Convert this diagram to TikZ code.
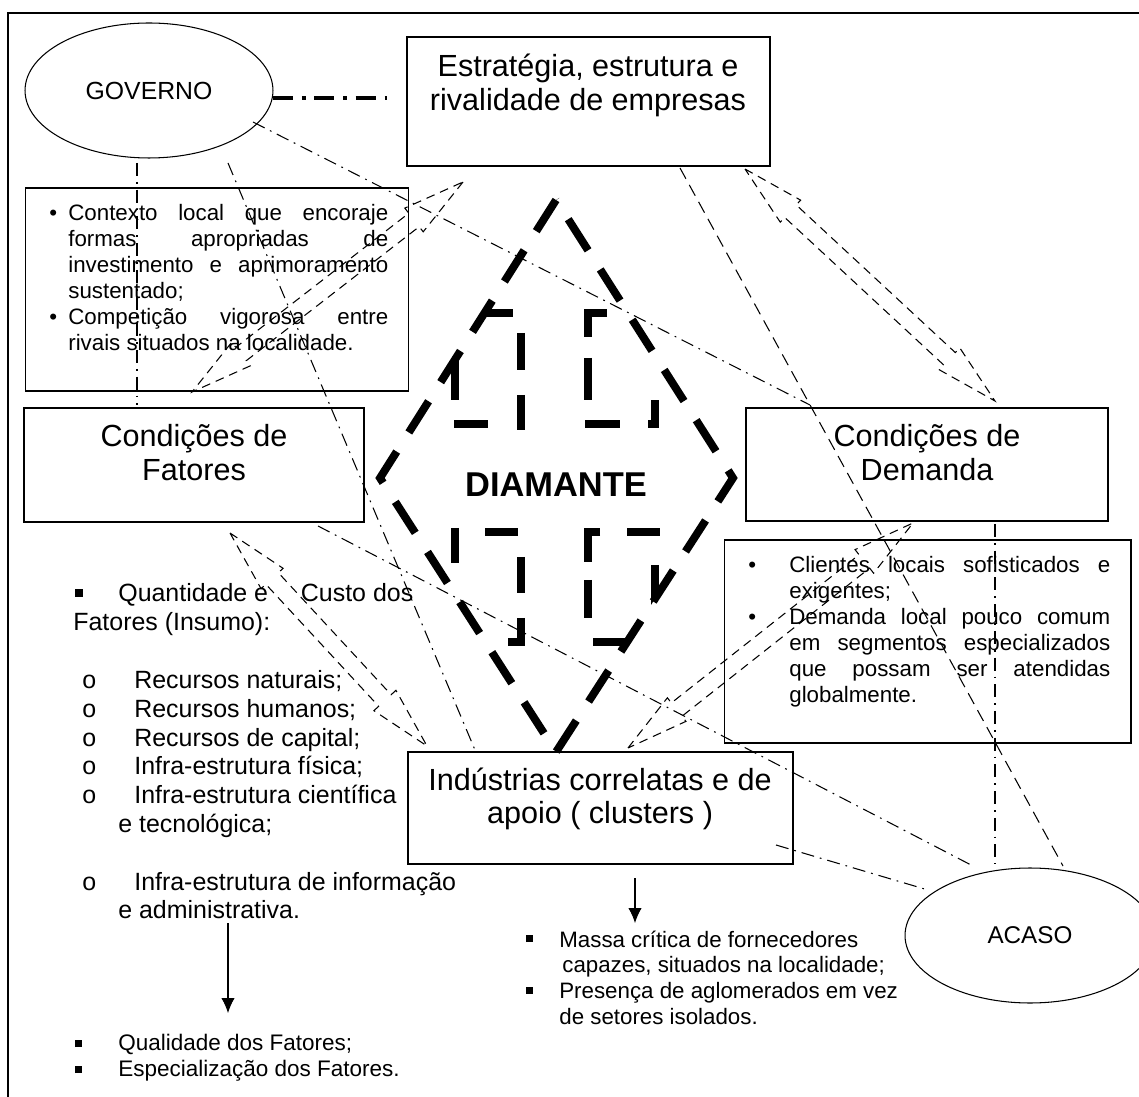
\documentclass[tikz,border=0pt]{standalone}
\usepackage{fontspec}
\setmainfont{Liberation Sans}
\usetikzlibrary{shapes.geometric,calc,arrows.meta}

\newcommand{\duaslinhas}[2]{\begin{tabular}[t]{@{}c@{}}#1\\#2\end{tabular}}
\newcommand{\justa}[2]{\makebox[#1][s]{#2}}
\newcommand{\quadrado}[2]{\raisebox{#2}{\rule{#1}{#1}}}
\newcommand{\itemo}{\hspace*{0.18cm}\makebox[1.04cm][l]{o}}
\newcommand{\setadupla}[2]{%
  \draw[contorno] (#1)
    -- ($(#1)!\CabecaSeta!(#2)!\AbaSeta!90:(#2)$)
    -- ($(#1)!\CabecaSeta!(#2)!\HasteSeta!90:(#2)$)
    -- ($(#2)!\CabecaSeta!(#1)!\HasteSeta!-90:(#1)$)
    -- ($(#2)!\CabecaSeta!(#1)!\AbaSeta!-90:(#1)$)
    -- (#2)
    -- ($(#2)!\CabecaSeta!(#1)!\AbaSeta!90:(#1)$)
    -- ($(#2)!\CabecaSeta!(#1)!\HasteSeta!90:(#1)$)
    -- ($(#1)!\CabecaSeta!(#2)!\HasteSeta!-90:(#2)$)
    -- ($(#1)!\CabecaSeta!(#2)!\AbaSeta!-90:(#2)$)
    -- cycle;}

\begin{document}
\begin{tikzpicture}[x=0.02cm,y=-0.02cm]
	\tikzstyle{caixa}=[draw,line width=1.4pt,inner sep=0pt]
	\tikzstyle{quadro}=[draw,line width=0.6pt,inner sep=0pt]
	\tikzstyle{elipse}=[draw,ellipse,line width=0.6pt,minimum width=4.96cm,minimum height=2.7cm]
	\tikzstyle{titulo}=[inner sep=0pt,anchor=base,font=\fontsize{17.4}{18.8}\selectfont]
	\tikzstyle{corpo}=[inner sep=0pt,anchor=base west,font=\fontsize{12.7}{14.7}\selectfont]
	\tikzstyle{lista}=[inner sep=0pt,anchor=base west,font=\fontsize{14.2}{16.4}\selectfont]
	\tikzstyle{tracoponto}=[line width=0.6pt,dash pattern=on 7.4pt off 3.4pt on 1pt off 3.4pt]
	\tikzstyle{tracogrosso}=[line width=2.2pt,dash pattern=on 11.5pt off 5pt on 2pt off 5pt]
	\tikzstyle{tracejado}=[line width=0.6pt,dash pattern=on 7pt off 4pt]
	\tikzstyle{contorno}=[line width=0.6pt,dash pattern=on 5pt off 3.4pt]
	\tikzstyle{diamante}=[line width=4.5pt,dash pattern=on 21pt off 12.9pt]
	\tikzstyle{faceta}=[line width=4.5pt]
	\tikzstyle{seta}=[line width=0.6pt,-{Latex[length=8.5pt,width=7.6pt]}]
	
	\def\CabecaSeta{1.24cm}
	\def\AbaSeta{0.3cm}
	\def\HasteSeta{0.17cm}
	
	\useasboundingbox (0,0) rectangle (1139,1097);
	\draw[line width=1.1pt] (8,13) rectangle (1250,1200);
	
	\coordinate (dT) at (556,200);
	\coordinate (dR) at (733,478);
	\coordinate (dB) at (556,752);
	\coordinate (dL) at (380,478);
	
	\begin{scope}
		\clip (dT) -- (dR) -- (dB) -- (dL) -- cycle;
		\draw[faceta] (470,313) -- (513,313);
		\draw[faceta] (607,313) -- (588,313) -- (588,337);
		\draw[faceta] (521,333) -- (521,370);
		\draw[faceta] (521,395) -- (521,430);
		\draw[faceta] (588,358) -- (588,400);
		\draw[faceta] (455,340) -- (455,400);
		\draw[faceta] (454,424) -- (488,424);
		\draw[faceta] (585,424) -- (620,424);
		\draw[faceta] (648,424) -- (655,424) -- (655,400);
		\draw[faceta] (485,532) -- (518,532);
		\draw[faceta] (600,532) -- (588,532) -- (588,562);
		\draw[faceta] (627,532) -- (660,532);
		\draw[faceta] (455,528) -- (455,563);
		\draw[faceta] (521,557) -- (521,593);
		\draw[faceta] (521,618) -- (521,642) -- (508,642);
		\draw[faceta] (588,580) -- (588,618);
		\draw[faceta] (655,565) -- (655,620);
		\draw[faceta] (593,642) -- (640,642);
	\end{scope}
	\node[font=\fontsize{19.6}{22}\selectfont\bfseries] (diam) at (556,484.5) {DIAMANTE};
	\draw[diamante] (dT) -- (dL) -- (dB) -- (dR) -- cycle;
	
	\node[elipse,font=\fontsize{14.1}{16}\selectfont] (gov) at (149,90.5) {GOVERNO};
	\node[elipse,minimum width=5cm,font=\fontsize{13.8}{16}\selectfont] (aca) at (1030,935.5) {ACASO};
	
	\node[caixa,minimum width=7.26cm,minimum height=2.58cm] (estr) at (588.5,101.5) {};
	\node[caixa,minimum width=6.8cm,minimum height=2.28cm] (fat) at (194,465) {};
	\node[caixa,minimum width=7.24cm,minimum height=2.26cm] (dem) at (927,464.5) {};
	\node[caixa,minimum width=7.7cm,minimum height=2.24cm] (ind) at (600.5,808) {};
	\node[quadro,minimum width=7.68cm,minimum height=4.06cm] (ctx) at (217,289.5) {};
	\node[quadro,minimum width=8.14cm,minimum height=4.06cm] (cli) at (927.5,641.5) {};
	
	\node[titulo] (estrT) at (588,77) {\duaslinhas{Estratégia, estrutura e}{rivalidade de empresas}};
	\node[titulo] (fatT) at (194,447) {\duaslinhas{Condições de}{Fatores}};
	\node[titulo] (demT) at (927,447) {\duaslinhas{Condições de}{Demanda}};
	\node[titulo] (indT) at (600,790) {\duaslinhas{Indústrias correlatas e de}{apoio ( clusters )}};
	
	\node[corpo] (ctxT) at (49,221) {\parbox[t]{6.78cm}{%
		\makebox[0.38cm][l]{•}\justa{6.4cm}{Contexto local que encoraje}\\
		\hspace*{0.38cm}\justa{6.4cm}{formas apropriadas de}\\
		\hspace*{0.38cm}\justa{6.4cm}{investimento e aprimoramento}\\
		\hspace*{0.38cm}sustentado;\\
		\makebox[0.38cm][l]{•}\justa{6.4cm}{Competição vigorosa entre}\\
		\hspace*{0.38cm}rivais situados na localidade.}};
	
	\node[corpo] (cliT) at (748,573) {\parbox[t]{7.24cm}{%
		\makebox[0.82cm][l]{•}\justa{6.42cm}{Clientes locais sofisticados e}\\
		\hspace*{0.82cm}exigentes;\\
		\makebox[0.82cm][l]{•}\justa{6.42cm}{Demanda local pouco comum}\\
		\hspace*{0.82cm}\justa{6.42cm}{em segmentos especializados}\\
		\hspace*{0.82cm}\justa{6.42cm}{que possam ser atendidas}\\
		\hspace*{0.82cm}globalmente.}};
	
	\node[lista] (fatL) at (73,602) {\parbox[t]{7.9cm}{%
		\makebox[6.8cm][l]{\hspace*{0.04cm}\quadrado{0.16cm}{0.1cm}\hspace{0.7cm}Quantidade e\hfill Custo dos}\\
		Fatores (Insumo):\\
		\mbox{}\\
		\itemo Recursos naturais;\\
		\itemo Recursos humanos;\\
		\itemo Recursos de capital;\\
		\itemo Infra-estrutura física;\\
		\itemo Infra-estrutura científica\\
		\hspace*{0.9cm}e tecnológica;\\
		\mbox{}\\
		\itemo Infra-estrutura de informação\\
		\hspace*{0.9cm}e administrativa.}};
	
	\node[corpo,font=\fontsize{12.8}{14.8}\selectfont] (fatQ) at (75,1050) {\parbox[t]{8.5cm}{%
		\makebox[0.86cm][l]{\quadrado{0.14cm}{0.06cm}}Qualidade dos Fatores;\\
		\makebox[0.86cm][l]{\quadrado{0.14cm}{0.06cm}}Especialização dos Fatores.}};
	
	\node[corpo] (indL) at (526,947) {\parbox[t]{7.5cm}{%
		\makebox[0.66cm][l]{\quadrado{0.14cm}{0.1cm}}Massa crítica de fornecedores\\
		\hspace*{0.72cm}capazes, situados na localidade;\\
		\makebox[0.66cm][l]{\quadrado{0.14cm}{0.1cm}}Presença de aglomerados em vez\\
		\hspace*{0.66cm}de setores isolados.}};
	
	\coordinate (govE) at (273,98);
	\coordinate (estG) at (387,98);
	\coordinate (govF) at (137,163);
	\coordinate (fatG) at (137,405);
	\coordinate (govI) at (228,163);
	\coordinate (indG) at (475,750);
	\coordinate (govD) at (253,122);
	\coordinate (demG) at (810,405);
	\coordinate (estA) at (680,168);
	\coordinate (acaE) at (1063,866);
	\coordinate (demA) at (995,524);
	\coordinate (acaD) at (995,864);
	\coordinate (fatA) at (318,526);
	\coordinate (acaF) at (973,866);
	\coordinate (indA) at (776,845);
	\coordinate (acaI) at (928,890);
	
	\draw[tracogrosso] (govE) -- (estG);
	\draw[tracoponto] (govF) -- (fatG);
	\draw[tracoponto] (govI) -- (indG);
	\draw[tracoponto] (govD) -- (demG);
	\draw[tracejado] (estA) -- (acaE);
	\draw[tracoponto] (demA) -- (acaD);
	\draw[tracoponto] (fatA) -- (acaF);
	\draw[tracoponto] (indA) -- (acaI);
	
	\coordinate (estSD) at (745,169);
	\coordinate (demN) at (995,401);
	\coordinate (estSF) at (463,182);
	\coordinate (fatN) at (192,392);
	\coordinate (fatSI) at (230,533);
	\coordinate (indNF) at (427,746);
	\coordinate (indND) at (628,748);
	\coordinate (demS) at (913,523);
	
	\setadupla{estSD}{demN}
	\setadupla{estSF}{fatN}
	\setadupla{fatSI}{indNF}
	\setadupla{indND}{demS}
	
	\coordinate (fatLs) at (228,923);
	\coordinate (fatQn) at (228,1013);
	\coordinate (indS) at (635,878);
	\coordinate (indLn) at (635,923);
	
	\draw[seta] (fatLs) -- (fatQn);
	\draw[seta] (indS) -- (indLn);
\end{tikzpicture}
\end{document}
